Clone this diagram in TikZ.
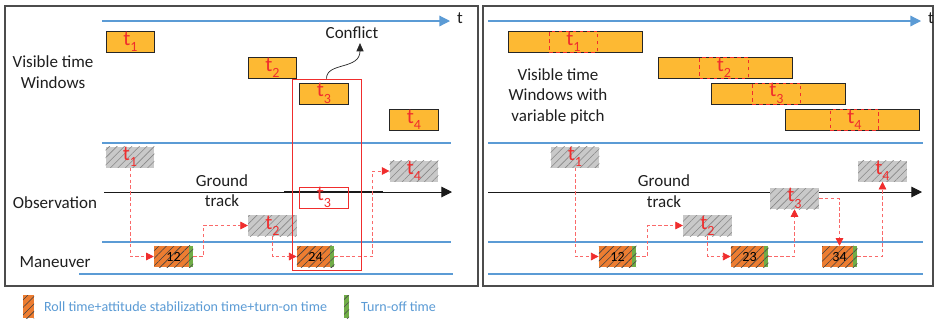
\documentclass[tikz,border=0pt]{standalone}
\usepackage{fontspec}
\setmainfont{Carlito}
\usetikzlibrary{arrows.meta,patterns.meta,positioning}
\definecolor{laneblue}{RGB}{91,155,213}
\definecolor{winorange}{RGB}{253,185,51}
\definecolor{manorange}{RGB}{237,125,49}
\definecolor{offgreen}{RGB}{112,173,71}
\definecolor{hatchgray}{RGB}{201,201,201}
\definecolor{hatchline}{RGB}{135,135,135}
\definecolor{tred}{RGB}{240,45,45}
\definecolor{flowred}{RGB}{250,105,105}
\newcommand{\tlab}[1]{t\raisebox{-0.3em}{\fontsize{12}{12}\selectfont #1}}

\begin{document}
\begin{tikzpicture}[
  x=0.03cm, y=-0.03cm,
  lbl/.style={font=\fontsize{14.5}{17.5}\selectfont, align=center, text=black!88},
  win/.style={draw=black!85, line width=0.7pt, fill=winorange, minimum width=1.46cm, minimum height=0.63cm, inner sep=0pt, text=tred, font=\fontsize{18}{18}\selectfont},
  longwin/.style={win, minimum width=4.02cm},
  tsub/.style={draw=tred, dashed, line width=0.8pt, minimum width=1.46cm, minimum height=0.63cm, inner sep=0pt, text=tred, font=\fontsize{18}{18}\selectfont},
  obs/.style={preaction={fill=hatchgray}, pattern={Lines[angle=45,distance=4.5pt,line width=0.5pt]}, pattern color=hatchline, minimum width=1.46cm, minimum height=0.63cm, inner sep=0pt, text=tred, font=\fontsize{18}{18}\selectfont},
  man/.style={preaction={fill=manorange}, pattern={Lines[angle=45,distance=4.5pt,line width=0.5pt]}, pattern color=black!75, minimum width=1.12cm, minimum height=0.63cm, inner sep=0pt, font=\fontsize{12}{12}\selectfont},
  off/.style={preaction={fill=offgreen}, pattern={Lines[angle=45,distance=4.5pt,line width=0.5pt]}, pattern color=black!70},
  flow/.style={draw=flowred, densely dashed, line width=0.6pt, -{Triangle[length=6.5pt,width=6.5pt,color=tred,fill=tred]}},
  lane/.style={draw=laneblue, line width=1pt},
  busy/.style={draw=laneblue, line width=1.8pt},
  panel/.style={draw=black!70, line width=1pt},
  legtext/.style={font=\fontsize{12}{14}\selectfont, text=laneblue, anchor=west}]
\useasboundingbox[fill=white] (0,0) rectangle (935,323);
% ---------------- left panel: fixed visible time windows ----------------
\draw[panel] (5,6) rectangle (478,286);
\draw[lane, -{Triangle[length=9pt,width=9pt]}] (102,21) -- (450,21);
\node[lbl, anchor=west] (tA) at (453,18) {t};
\foreach \y in {143,242} { \draw[lane] (102,\y) -- (451,\y); }
\draw[lane] (79,274) -- (453,274);
\draw[busy] (284,143) -- (369,143);
\draw[busy] (147,242) -- (199,242); \draw[busy] (292,242) -- (369,242);
\draw[busy] (284,274) -- (369,274);
\draw[black!90, line width=0.8pt, -{Triangle[length=9pt,width=9pt]}] (104,192) -- (452,192);
\draw[black!90, line width=1.1pt] (284,192) -- (383,192);
\node[lbl] (visA) at (53,72) {Visible time\\Windows};
\node[lbl] (obsA) at (55,203) {Observation};
\node[lbl] (manA) at (55,262) {Maneuver};
\node[lbl] (gtA) at (222,190.5) {Ground\\track};
\node[win] (wA1) at (130.5,41.5) {\tlab{1}};
\node[win] (wA2) at (272.5,67.5) {\tlab{2}};
\node[win] (wA3) at (324,93.5) {\tlab{3}};
\node[win] (wA4) at (414,120) {\tlab{4}};
\node[obs] (oA1) at (130,157) {\tlab{1}};
\node[obs] (oA2) at (272.5,225.5) {\tlab{2}};
\node[obs] (oA4) at (414,171) {\tlab{4}};
\node[tsub, solid, line width=0.6pt] (oA3) at (324,197.5) {\tlab{3}};
\node[man, minimum width=1.17cm] (mA12) at (173.5,256.5) {12};
\node[man] (mA24) at (315.5,256.5) {24};
\path[off] ([xshift=-0.12cm]mA12.north east) rectangle (mA12.south east);
\path[off] ([xshift=-0.12cm]mA24.north east) rectangle (mA24.south east);
\node[draw=tred, line width=0.8pt, minimum width=2.07cm, minimum height=5.73cm, inner sep=0pt] (conf) at (326.5,174.5) {};
\node[lbl] (cflt) at (352,33) {Conflict};
\draw[black!85, line width=0.6pt, -{Triangle[length=7pt,width=6pt]}] (conf.north) .. controls (326.5,62) and (360,70) .. ([xshift=0.24cm]cflt.south);
\draw[flow] (oA1.south) |- (mA12.west);
\draw[flow] (mA12.east) -- ++(10,0) |- (oA2.west);
\draw[flow] (oA2.south) |- (mA24.west);
\draw[flow] (mA24.east) -- ++(38,0) |- (oA4.west);
% ---------------- right panel: windows with variable pitch ----------------
\draw[panel] (483,6) rectangle (933,286);
\draw[lane, -{Triangle[length=9pt,width=9pt]}] (488,21) -- (921,21);
\node[lbl, anchor=west] (tB) at (924,18) {t};
\foreach \y in {143,242,274} { \draw[lane] (488,\y) -- (923,\y); }
\draw[busy] (543,143) -- (607,143);
\draw[busy] (591,242) -- (643,242); \draw[busy] (724,242) -- (777,242); \draw[busy] (815,242) -- (866,242);
\draw[black!90, line width=0.8pt, -{Triangle[length=9pt,width=9pt]}] (488,192) -- (922,192);
\node[lbl] (visB) at (558,96) {Visible time\\Windows with\\variable pitch};
\node[lbl] (gtB) at (664,191) {Ground\\track};
\node[longwin] (wB1) at (575,41.5) {};
\node[longwin] (wB2) at (725,67.5) {};
\node[longwin] (wB3) at (778,93.5) {};
\node[longwin] (wB4) at (852.5,120) {};
\node[tsub] (sB1) at (573.5,41.5) {\tlab{1}};
\node[tsub] (sB2) at (724,67.5) {\tlab{2}};
\node[tsub] (sB3) at (776.5,93.5) {\tlab{3}};
\node[tsub] (sB4) at (854.5,120) {\tlab{4}};
\node[obs] (oB1) at (575,157) {\tlab{1}};
\node[obs] (oB2) at (707.5,225.5) {\tlab{2}};
\node[obs] (oB3) at (794.5,198.5) {\tlab{3}};
\node[obs] (oB4) at (882.5,171) {\tlab{4}};
\node[man] (mB12) at (617.5,256.5) {12};
\node[man] (mB23) at (749.5,256.5) {23};
\node[man, minimum width=1.05cm] (mB34) at (839.5,256.5) {34};
\foreach \m in {mB12,mB23,mB34} { \path[off] ([xshift=-0.12cm]\m.north east) rectangle (\m.south east); }
\draw[flow] (oB1.south) |- (mB12.west);
\draw[flow] (mB12.east) -- ++(11,0) |- (oB2.west);
\draw[flow] (oB2.south) |- (mB23.west);
\draw[flow] (mB23.east) -| (oB3.south);
\draw[flow] (oB3.east) -| (mB34.north);
\draw[flow] (mB34.east) -| (oB4.south);
% legend
\path[off, preaction={fill=manorange}, pattern color=black!75] (23,295) rectangle (34,318);
\node[legtext] (legRoll) at (40,307) {Roll time+attitude stabilization time+turn-on time};
\path[off] (344,295) rectangle (349,318);
\node[legtext] (legOff) at (357,307) {Turn-off time};
\end{tikzpicture}
\end{document}
